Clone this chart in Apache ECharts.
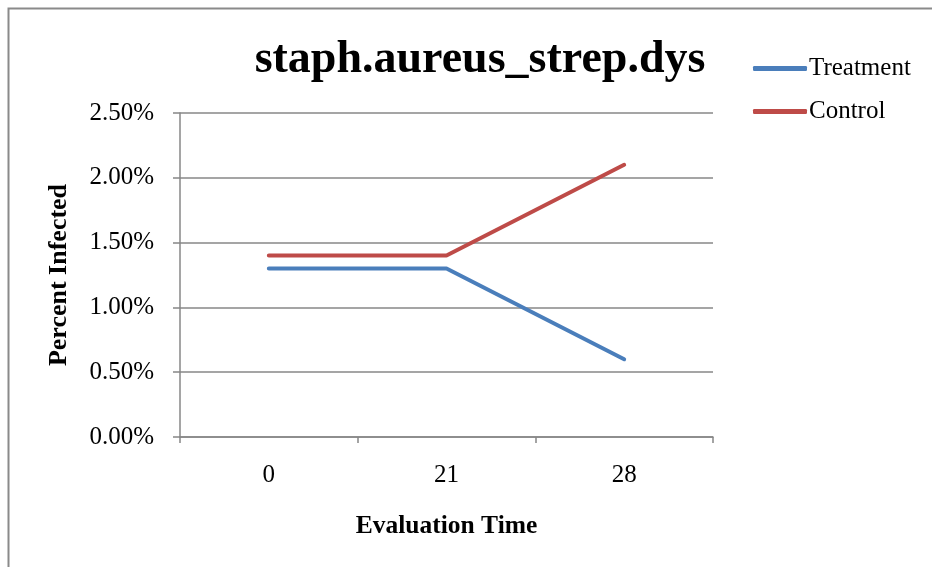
<!DOCTYPE html>
<html><head><meta charset="utf-8">
<script src="https://cdn.jsdelivr.net/npm/echarts@6/dist/echarts.min.js"></script>
<style>html,body{margin:0;padding:0;background:#fff}#c{width:932px;height:567px}</style>
</head><body><div id="c"></div>
<script>
const categories = ['0', '21', '28'];
const treatment = [0.013, 0.013, 0.006];
const control = [0.014, 0.014, 0.021];
const seriesNames = ['Treatment', 'Control'];
const yTicks = { min: 0, max: 0.025, interval: 0.005 };

const font = '"Liberation Serif", "Times New Roman", serif';
const chart = echarts.init(document.getElementById('c'));
chart.setOption({
  animation: false,
  backgroundColor: '#fff',
  graphic: [{
    type: 'rect', shape: { x: 8.5, y: 8.5, width: 1000, height: 1000 },
    style: { fill: 'none', stroke: '#8a8a8a', lineWidth: 2 }, silent: true
  }],
  title: {
    text: 'staph.aureus_strep.dys', left: 475, top: 32, textAlign: 'center',
    textStyle: { fontFamily: font, fontSize: 46, fontWeight: 'bold', color: '#000' }
  },
  legend: {
    orient: 'vertical', left: 748, top: 51, itemGap: 18, itemWidth: 54, itemHeight: 5,
    icon: 'roundRect',
    data: seriesNames,
    textStyle: { fontFamily: font, fontSize: 25, color: '#000', padding: [0, 0, 0, -3] }
  },
  grid: { left: 180, right: 219, top: 113, bottom: 130, containLabel: false },
  xAxis: {
    type: 'category', data: categories, boundaryGap: true,
    name: 'Evaluation Time', nameLocation: 'middle', nameGap: 76,
    nameTextStyle: { fontFamily: font, fontSize: 25.5, fontWeight: 'bold', color: '#000' },
    axisLine: { lineStyle: { color: '#878787', width: 1.5 } },
    axisTick: { show: true, length: 6, inside: false, lineStyle: { color: '#878787', width: 1.5 } },
    axisLabel: { fontFamily: font, fontSize: 25, color: '#000', margin: 26 }
  },
  yAxis: {
    type: 'value', min: yTicks.min, max: yTicks.max, interval: yTicks.interval,
    name: 'Percent Infected', nameLocation: 'middle', nameGap: 108, nameRotate: 90,
    nameTextStyle: { fontFamily: font, fontSize: 26, fontWeight: 'bold', color: '#000', padding: [0, 0, 0, 0] },
    axisLine: { show: true, lineStyle: { color: '#878787', width: 1.5 } },
    axisTick: { show: true, length: 7, lineStyle: { color: '#878787', width: 1.5 } },
    splitLine: { show: true, lineStyle: { color: '#878787', width: 1.5 } },
    axisLabel: { fontFamily: font, fontSize: 25, color: '#000', margin: 26,
      formatter: v => (v * 100).toFixed(2) + '%' }
  },
  series: [
    { name: seriesNames[0], type: 'line', data: treatment, symbol: 'none',
      lineStyle: { color: '#4a7ebb', width: 4, cap: 'round' }, itemStyle: { color: '#4a7ebb' } },
    { name: seriesNames[1], type: 'line', data: control, symbol: 'none',
      lineStyle: { color: '#be4b48', width: 4, cap: 'round' }, itemStyle: { color: '#be4b48' } }
  ]
});
</script></body></html>
